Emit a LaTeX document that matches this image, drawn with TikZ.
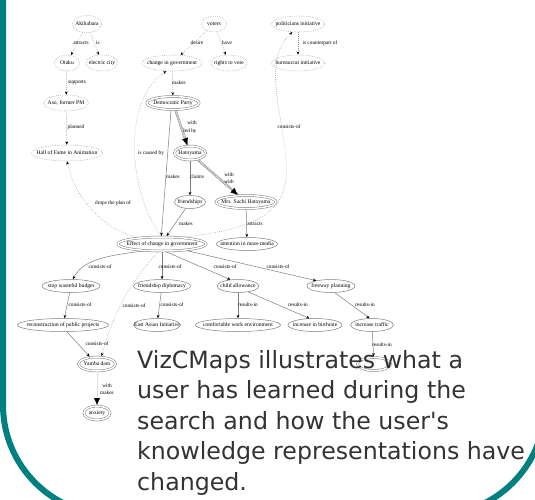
\documentclass[tikz,border=0pt]{standalone}
\usepackage{fontspec}
\setmainfont{Liberation Serif}
\newfontfamily\bigfont{DejaVu Sans}
\usetikzlibrary{shapes.geometric,arrows.meta}
\definecolor{frameteal}{RGB}{0,128,128}
\definecolor{linegray}{RGB}{125,125,125}
\definecolor{dotgray}{RGB}{150,150,150}
\definecolor{textdark}{RGB}{51,51,51}
\tikzset{
 cmnode/.style={ellipse, inner sep=0pt, font=\fontsize{5.6}{6}\selectfont, text=black},
 dotnode/.style={cmnode, draw=dotgray, dash pattern=on 0.6pt off 1.2pt, line width=0.5pt},
 solnode/.style={cmnode, draw=linegray, line width=0.5pt},
 dblnode/.style={cmnode, draw=linegray, double=white, double distance=1.5pt, line width=0.5pt, outer sep=1pt},
 lbl/.style={inner sep=0pt, font=\fontsize{5.3}{6}\selectfont, text=black},
 tipA/.style={-{Stealth[length=3.4pt,width=2.8pt,color=black]}},
 sedge/.style={draw=linegray, line width=0.5pt, tipA},
 dedge/.style={draw=dotgray, line width=0.5pt, dash pattern=on 0.6pt off 1.4pt, tipA},
 dbledge/.style={draw=linegray, double=white, double distance=1.2pt, line width=0.5pt},
 bigtip/.style={draw=black, line width=0.01pt, -{Latex[length=7pt,width=6pt]}},
 bigtxt/.style={inner sep=0pt, anchor=base west, text=textdark, font=\bigfont\fontsize{23.7}{28}\selectfont},
}
\begin{document}
\begin{tikzpicture}[x=1pt,y=-1pt]
\useasboundingbox (0,0) rectangle (535,499);
\fill[white] (0,0) rectangle (535,499);

% ---------- frame ----------
\draw[frameteal, line width=6pt, rounded corners=110pt] (3,-30) -- (3,515) -- (545,515) -- (545,-30);

% ---------- nodes ----------
\node[dotnode, minimum width=29pt, minimum height=17pt] (aki) at (87,24) {\makebox[0pt]{Akihabara}};
\node[dotnode, minimum width=25pt, minimum height=16pt] (otaku) at (67,63) {\makebox[0pt]{Otaku}};
\node[dotnode, minimum width=32pt, minimum height=16pt] (ecity) at (102,63) {\makebox[0pt]{electric city}};
\node[dotnode, minimum width=45pt, minimum height=16pt] (aso) at (66,103) {\makebox[0pt]{Aso, former PM}};
\node[dotnode, minimum width=71pt, minimum height=16pt] (hof) at (67,153) {\makebox[0pt]{Hall of Fame in Animation}};
\node[dotnode, minimum width=60pt, minimum height=16pt] (chg) at (172,63) {\makebox[0pt]{change in government}};
\node[dotnode, minimum width=25pt, minimum height=16pt] (voters) at (214,24) {\makebox[0pt]{voters}};
\node[dotnode, minimum width=36pt, minimum height=16pt] (rights) at (229,63) {\makebox[0pt]{rights to vote}};
\node[dotnode, minimum width=53pt, minimum height=16pt] (pol) at (298,24) {\makebox[0pt]{politicians initiative}};
\node[dotnode, minimum width=53pt, minimum height=16pt] (bur) at (298,63) {\makebox[0pt]{bureaucrat initiative}};

\node[dblnode, minimum width=52pt, minimum height=13pt] (dem) at (173,103) {\makebox[0pt]{Democratic Party}};
\node[dblnode, minimum width=31pt, minimum height=14pt] (hat) at (190,153) {\makebox[0pt]{Hatoyama}};
\node[solnode, minimum width=31pt, minimum height=13pt] (fri) at (190,202) {\makebox[0pt]{friendships}};
\node[dblnode, minimum width=60pt, minimum height=13pt] (mrs) at (246,202) {\makebox[0pt]{Mrs. Sachi Hatoyama}};
\node[dblnode, minimum width=88pt, minimum height=14pt] (eff) at (162,244) {\makebox[0pt]{Effect of change in government}};
\node[solnode, minimum width=61pt, minimum height=13pt] (att) at (247,244) {\makebox[0pt]{attention in mass-media}};

\node[solnode, minimum width=58pt, minimum height=13pt] (swb) at (71,286) {\makebox[0pt]{stop wasteful budget}};
\node[solnode, minimum width=57pt, minimum height=13pt] (fd) at (162,286) {\makebox[0pt]{friendship diplomacy}};
\node[solnode, minimum width=42pt, minimum height=13pt] (ca) at (238,286) {\makebox[0pt]{child allowance}};
\node[solnode, minimum width=48pt, minimum height=13pt] (fp) at (331,286) {\makebox[0pt]{freeway planning}};

\node[solnode, minimum width=91pt, minimum height=13pt] (rpp) at (63,325) {\makebox[0pt]{reconstruction of public projects}};
\node[solnode, minimum width=47pt, minimum height=13pt] (eai) at (157,325) {\makebox[0pt]{East Asian Initiative}};
\node[solnode, minimum width=85pt, minimum height=13pt] (cwe) at (238,325) {\makebox[0pt]{comfortable work environment}};
\node[solnode, minimum width=54pt, minimum height=13pt] (ib) at (315,325) {\makebox[0pt]{increase in birthrate}};
\node[solnode, minimum width=43pt, minimum height=13pt] (it) at (372,325) {\makebox[0pt]{increase traffic}};
\node[dblnode, minimum width=33pt, minimum height=13pt] (hid) at (374,364) {};

\node[dblnode, minimum width=37pt, minimum height=14pt] (vc) at (97,364) {\makebox[0pt]{Yamba dam}};
\node[dblnode, minimum width=26pt, minimum height=14pt] (anx) at (97,413) {\makebox[0pt]{anxiety}};

% ---------- edges ----------
\draw[dedge] (aki) -- (otaku);
\draw[dedge] (aki) -- (ecity);
\draw[dedge] (otaku) -- (aso);
\draw[dedge] (aso) -- (hof);
\draw[dedge] (voters) -- (chg);
\draw[dedge] (voters) -- (rights);
\draw[dedge] (pol) -- (bur);
\draw[dedge] (chg) -- (dem);

\draw[dbledge] (dem) -- (hat);
\draw[bigtip] (dem) -- (hat);
\draw[dbledge] (hat) -- (mrs);
\draw[bigtip] (hat) -- (mrs);
\draw[dbledge] (vc) -- (anx);
\draw[bigtip] (vc) -- (anx);

\draw[sedge] (dem.-105) -- (eff.95);
\draw[sedge] (hat) -- (fri);
\draw[sedge] (fri) -- (eff.60);
\draw[sedge] (mrs) -- (att);

\draw[dedge] (eff.100) .. controls (128,190) and (122,100) .. (chg.235);
\draw[dedge] (eff.165) .. controls (100,228) and (74,195) .. (hof.south);
\draw[dedge] (eff.18) .. controls (270,228) and (290,205) .. (286,160) .. controls (282,110) and (262,60) .. (pol.235);
\draw[dedge] (eff.245) .. controls (132,280) and (114,310) .. (vc.60);

\draw[sedge] (eff.200) .. controls (100,256) and (82,262) .. (swb.75);
\draw[sedge] (eff.south) -- (fd);
\draw[sedge] (eff.-60) -- (ca.140);
\draw[sedge] (eff.-15) -- (fp.160);
\draw[sedge] (swb) -- (rpp);
\draw[sedge] (fd) -- (eai);
\draw[sedge] (ca) -- (cwe);
\draw[sedge] (ca.-30) -- (ib.130);
\draw[sedge] (fp.-60) -- (it.110);
\draw[sedge] (it) -- (hid);
\draw[sedge] (rpp.-60) -- (vc.135);

% ---------- edge labels ----------
\node[lbl] (l1) at (81,43) {attracts};
\node[lbl] (l2) at (98,43) {is};
\node[lbl] (l3) at (77,83) {supports};
\node[lbl] (l4) at (76,127) {planned};
\node[lbl] (l5) at (197,43) {desire};
\node[lbl] (l6) at (227,43) {have};
\node[lbl] (l7) at (320,43) {is counterpart of};
\node[lbl] (l8) at (179,83) {makes};
\node[lbl] (l9) at (192,123) {with};
\node[lbl] (l10) at (190,131) {led by};
\node[lbl] (l11) at (151,153) {is caused by};
\node[lbl] (l12) at (173,177) {makes};
\node[lbl] (l13) at (197,177) {claims};
\node[lbl] (l14) at (229,175) {with};
\node[lbl] (l15) at (229,182) {with};
\node[lbl] (l16) at (186,224) {makes};
\node[lbl] (l17) at (255,224) {attracts};
\node[lbl] (l18) at (289,127) {consists-of};
\node[lbl] (l19) at (113,203) {drops the plan of};
\node[lbl] (l20) at (100,267) {consists-of};
\node[lbl] (l21) at (170,267) {consists-of};
\node[lbl] (l22) at (225,267) {consists-of};
\node[lbl] (l23) at (278,267) {consists-of};
\node[lbl] (l24) at (80,305) {consists-of};
\node[lbl] (l25) at (134,306) {consists-of};
\node[lbl] (l26) at (172,305) {consists-of};
\node[lbl] (l27) at (248,305) {results-in};
\node[lbl] (l28) at (298,305) {results-in};
\node[lbl] (l29) at (365,305) {results-in};
\node[lbl] (l30) at (97,344) {consists-of};
\node[lbl] (l31) at (107,386) {with};
\node[lbl] (l32) at (107,393) {makes};
\node[lbl] (l33) at (382,345) {results-in};

% ---------- big caption ----------
\node[bigtxt] (t1) at (137,368) {VizCMaps illustrates what a};
\node[bigtxt] (t2) at (137,398.5) {user has learned during the};
\node[bigtxt] (t3) at (137,429) {search and how the user's};
\node[bigtxt] (t4) at (137,459.5) {knowledge representations have};
\node[bigtxt] (t5) at (137,490) {changed.};
\end{tikzpicture}
\end{document}
